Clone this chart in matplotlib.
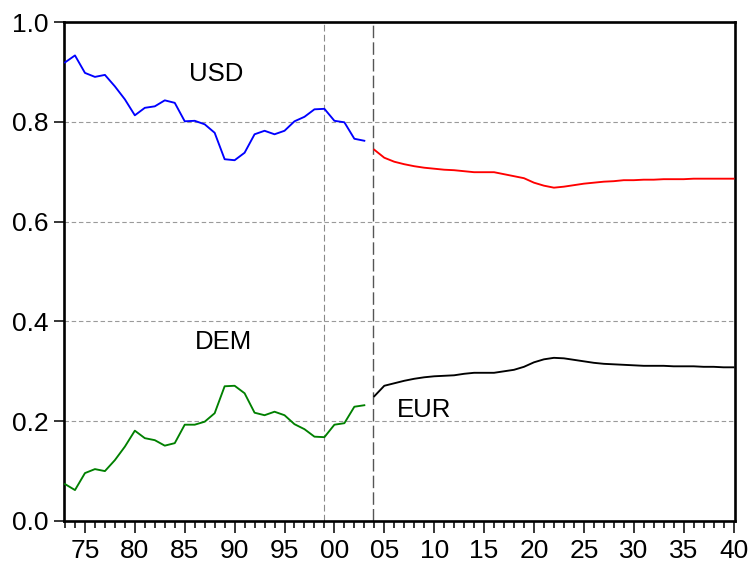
import matplotlib
matplotlib.use("Agg")
import matplotlib.pyplot as plt
from matplotlib.ticker import MultipleLocator, FixedLocator, FixedFormatter

plt.rcParams['font.family'] = ['Liberation Sans', 'DejaVu Sans']

hist_years = list(range(1973, 2004))
usd = [0.919, 0.933, 0.898, 0.890, 0.894, 0.871, 0.845, 0.813, 0.828, 0.831,
       0.843, 0.838, 0.801, 0.802, 0.795, 0.778, 0.725, 0.723, 0.738, 0.775,
       0.782, 0.775, 0.782, 0.801, 0.810, 0.825, 0.826, 0.802, 0.799, 0.766,
       0.762]
dem = [0.074, 0.062, 0.096, 0.104, 0.100, 0.122, 0.149, 0.181, 0.166, 0.162,
       0.151, 0.156, 0.193, 0.193, 0.199, 0.216, 0.270, 0.271, 0.256, 0.217,
       0.212, 0.219, 0.212, 0.194, 0.184, 0.169, 0.168, 0.193, 0.196, 0.229,
       0.232]

proj_years = list(range(2004, 2041))
usd_proj = [0.744, 0.728, 0.720, 0.715, 0.711, 0.708, 0.706, 0.704, 0.703, 0.701,
            0.699, 0.699, 0.699, 0.695, 0.691, 0.687, 0.678, 0.672, 0.668, 0.670,
            0.673, 0.676, 0.678, 0.680, 0.681, 0.683, 0.683, 0.684, 0.684, 0.685,
            0.685, 0.685, 0.686, 0.686, 0.686, 0.686, 0.686]
eur_proj = [0.250, 0.271, 0.276, 0.281, 0.285, 0.288, 0.290, 0.291, 0.292, 0.295,
            0.297, 0.297, 0.297, 0.300, 0.303, 0.309, 0.318, 0.324, 0.327, 0.326,
            0.323, 0.320, 0.317, 0.315, 0.314, 0.313, 0.312, 0.311, 0.311, 0.311,
            0.310, 0.310, 0.310, 0.309, 0.309, 0.308, 0.308]

x_tick_years = list(range(1975, 2041, 5))
x_tick_labels = ['75', '80', '85', '90', '95', '00', '05', '10', '15', '20',
                 '25', '30', '35', '40']
y_ticks = [0.0, 0.2, 0.4, 0.6, 0.8, 1.0]
y_tick_labels = ['0.0', '0.2', '0.4', '0.6', '0.8', '1.0']
vline_years = [1999, 2003.9]

W, H = 751, 571
fig = plt.figure(figsize=(W / 100, H / 100), dpi=100)
ax = fig.add_axes([64 / W, (H - 521) / H, (735 - 64) / W, (521 - 22) / H])

lw = 1.35
ax.plot(hist_years, usd, color='#0000FF', lw=lw, zorder=3)
ax.plot(hist_years, dem, color='#008000', lw=lw, zorder=3)
ax.plot(proj_years, usd_proj, color='#FF0000', lw=lw, zorder=3)
ax.plot(proj_years, eur_proj, color='black', lw=lw, zorder=3)

for yv in [0.2, 0.4, 0.6, 0.8]:
    ax.axhline(yv, color='#9a9a9a', lw=0.8, ls=(0, (4, 2.5)), zorder=1)
ax.axvline(vline_years[0], color='#8a8a8a', lw=0.8, ls=(0, (6, 3)), zorder=1)
ax.axvline(vline_years[1], color='#555555', lw=1.0, ls=(0, (9, 3)), zorder=1)

ax.set_xlim(1972.9, 2040.15)
ax.set_ylim(0.0, 1.0)

ax.xaxis.set_major_locator(FixedLocator(x_tick_years))
ax.xaxis.set_major_formatter(FixedFormatter(x_tick_labels))
ax.xaxis.set_minor_locator(MultipleLocator(1))
ax.yaxis.set_major_locator(FixedLocator(y_ticks))
ax.yaxis.set_major_formatter(FixedFormatter(y_tick_labels))

ax.tick_params(axis='x', which='major', direction='out', length=8.6, width=1.1,
               labelsize=19, pad=4.5, bottom=True, top=False)
ax.tick_params(axis='x', which='minor', direction='out', length=5.0, width=1.1,
               bottom=True, top=False)
ax.tick_params(axis='y', which='major', direction='out', length=7.2, width=1.1,
               labelsize=19, pad=4, left=True, right=False)

for sp in ax.spines.values():
    sp.set_linewidth(1.9)
    sp.set_color('black')

ax.text(1988.15, 0.896, 'USD', fontsize=18.5, ha='center', va='center')
ax.text(1988.85, 0.358, 'DEM', fontsize=18.5, ha='center', va='center')
ax.text(2009.0, 0.223, 'EUR', fontsize=18.5, ha='center', va='center')

fig.savefig('out.png', dpi=100)
